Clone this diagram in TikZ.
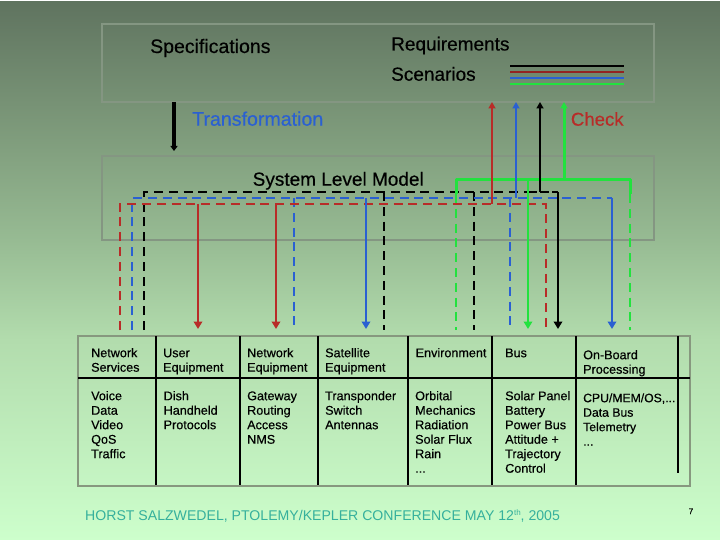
\documentclass[tikz,border=0pt]{standalone}
\usepackage{fontspec}
\setmainfont{Liberation Sans}
\newfontfamily\fatfont[FakeBold=0.35]{Liberation Sans}
\usetikzlibrary{arrows.meta}
\definecolor{bgA}{HTML}{5F735F}
\definecolor{bgB}{HTML}{82A07F}
\definecolor{bgC}{HTML}{97BB93}
\definecolor{bgD}{HTML}{B2DCAD}
\definecolor{bgE}{HTML}{CDFFCC}
\definecolor{framec}{HTML}{849682}
\definecolor{tframe}{HTML}{87987F}
\definecolor{redc}{HTML}{B82C28}
\definecolor{bluec}{HTML}{2A60D2}
\definecolor{greenc}{HTML}{22E23E}
\definecolor{foot}{HTML}{35B09C}
\pgfdeclareverticalshading{bgshade}{720pt}{color(0pt)=(bgE); color(200pt)=(bgD); color(300pt)=(bgC); color(390pt)=(bgB); color(540pt)=(bgA)}
\def\fl{\rule{0pt}{10pt}}
\tikzset{
 x=1pt,y=-1pt,
 panel/.style={draw=framec,line width=1.9pt,inner sep=0,anchor=north west},
 head/.style={inner sep=0,anchor=base west},
 cell/.style={inner sep=0,anchor=north west,align=left,font=\fatfont\fontsize{12.6}{14.5}\selectfont},
 rule/.style={line width=2pt,black},
 dashline/.style={line width=2.1pt,dash pattern=on 9pt off 5.8pt},
 solidline/.style={line width=2.6pt},
 tip/.style={-{Triangle[length=7.5pt,width=8.5pt]}},
 uptip/.style={-{Triangle[length=6.5pt,width=7pt]}},
}
\begin{document}
\begin{tikzpicture}
\useasboundingbox (0,0) rectangle (720,540);
\node[inner sep=0,anchor=north west] (bgd) at (0,0) {\pgfuseshading{bgshade}};
% panels
\node[panel,minimum width=552pt,minimum height=78pt] (spec) at (101,23) {};
\node[panel,minimum width=552pt,minimum height=84pt] (sys) at (101,155) {};
% legend
\coordinate (la) at (510,66); \coordinate (lb) at (624,66);
\coordinate (lc) at (510,72); \coordinate (ld) at (624,72);
\coordinate (le) at (510,78); \coordinate (lf) at (624,78);
\coordinate (lg) at (510,84); \coordinate (lh) at (624,84);
\draw[line width=2pt,black] (la)--(lb);
\draw[line width=2.4pt,color=redc!80!black] (lc)--(ld);
\draw[line width=2.4pt,bluec] (le)--(lf);
\draw[line width=2.4pt,greenc] (lg)--(lh);
% transformation arrow
\coordinate (ts) at (174,102); \coordinate (te) at (174,151);
\draw[line width=3.4pt,black,-{Triangle[length=5pt,width=7pt]}] (ts)--(te);
% junction coordinates
\coordinate (bk1) at (144,192); \coordinate (bk4) at (558,192);
\coordinate (bl1) at (132,198); \coordinate (bl5) at (612,198);
\coordinate (rd1) at (120,204); \coordinate (rd5) at (546,204);
\coordinate (gr1) at (456,180); \coordinate (gr4) at (630,180);
% dashed verticals
\coordinate (e120) at (120,330); \coordinate (e132) at (132,330); \coordinate (e144) at (144,330);
\coordinate (j294) at (294,198); \coordinate (e294) at (294,330);
\coordinate (j384) at (384,192); \coordinate (e384) at (384,330);
\coordinate (j474) at (474,192); \coordinate (e474) at (474,330);
\coordinate (j510) at (510,198); \coordinate (e510) at (510,330);
\coordinate (e456) at (456,330); \coordinate (e630) at (630,330); \coordinate (e546) at (546,330);
% black lines
\coordinate (bkm) at (528,192);
\draw[dashline,black] (e144)--(bk1)--(bkm);
\draw[line width=2pt,black,dash pattern=on 9pt off 3pt] (bkm)--(bk4);
\draw[dashline,black] (j384)--(e384);
\draw[dashline,black] (j474)--(e474);
% blue dashed
\draw[dashline,bluec] (e132)--(bl1)--(bl5);
\draw[dashline,bluec] (j294)--(e294);
\draw[dashline,bluec] (j510)--(e510);
% red dashed
\draw[dashline,redc] (e120)--(rd1)--(rd5)--(e546);
% green
\coordinate (gl) at (456,194); \coordinate (gq) at (630,194);
\draw[line width=3pt,greenc,line join=round] (gl)--(gr1)--(gr4)--(gq);
\draw[dashline,greenc] (gl)--(e456);
\draw[dashline,greenc] (gq)--(e630);
% solid down arrows
\coordinate (r1a) at (198,204); \coordinate (r1b) at (198,329);
\coordinate (r2a) at (276,204); \coordinate (r2b) at (276,329);
\coordinate (b1a) at (366,198); \coordinate (b1b) at (366,329);
\coordinate (g1a) at (528,180); \coordinate (g1b) at (528,329);
\coordinate (k1b) at (558,329);
\coordinate (b2b) at (612,329);
\draw[solidline,redc,tip] (r1a)--(r1b);
\draw[solidline,redc,tip] (r2a)--(r2b);
\draw[solidline,bluec,tip] (b1a)--(b1b);
\draw[solidline,greenc,tip] (g1a)--(g1b);
\draw[solidline,black,tip] (bk4)--(k1b);
\draw[solidline,bluec,tip] (bl5)--(b2b);
% up arrows
\coordinate (u1a) at (492,204); \coordinate (u1b) at (492,102);
\coordinate (u2a) at (516,198); \coordinate (u2b) at (516,102);
\coordinate (u3a) at (540,192); \coordinate (u3b) at (540,102);
\coordinate (u4a) at (564,180); \coordinate (u4b) at (564,102);
\draw[solidline,redc,uptip] (u1a)--(u1b);
\draw[solidline,bluec,uptip] (u2a)--(u2b);
\draw[line width=2.2pt,black,uptip] (u3a)--(u3b);
\draw[line width=3pt,greenc,uptip] (u4a)--(u4b);
% heading texts
\node[head,font=\fatfont\fontsize{19.5}{20}\selectfont] (tspec) at (150,53) {Specifications};
\node[head,font=\fatfont\fontsize{19}{20}\selectfont] (treq) at (391,50.5) {Requirements};
\node[head,font=\fatfont\fontsize{19}{20}\selectfont] (tscen) at (391,80.7) {Scenarios};
\node[head,font=\fatfont\fontsize{19.6}{20}\selectfont,text=bluec] (ttrans) at (192,125.7) {Transformation};
\node[head,font=\fatfont\fontsize{18.6}{20}\selectfont,text=redc] (tcheck) at (570.7,125.7) {Check};
\node[head,font=\fatfont\fontsize{19}{20}\selectfont] (tsys) at (252.5,185.7) {System Level Model};
% table
\node[draw=tframe,line width=2pt,inner sep=0,anchor=north west,minimum width=612pt,minimum height=150pt] (tbl) at (77,335) {};
\coordinate (h1) at (78,378); \coordinate (h2) at (690,378);
\draw[rule,line width=2.2pt] (h1)--(h2);
\foreach \nm/\vx in {v1/156,v2/240,v3/318,v4/408,v5/492,v6/576}{
  \coordinate (\nm a) at (\vx,336); \coordinate (\nm b) at (\vx,485);
  \draw[rule] (\nm a)--(\nm b);
}
\coordinate (v7a) at (678,336); \coordinate (v7b) at (678,473);
\draw[rule] (v7a)--(v7b);
% first row
\node[cell] (c11) at (91,347) {\fl Network\\Services};
\node[cell] (c12) at (163,347) {\fl User\\Equipment};
\node[cell] (c13) at (247,347) {\fl Network\\Equipment};
\node[cell] (c14) at (325,347) {\fl Satellite\\Equipment};
\node[cell] (c15) at (415.5,347) {\fl Environment};
\node[cell] (c16) at (505,347) {\fl Bus};
\node[cell] (c17) at (583,349) {\fl On-Board\\Processing};
% second row
\node[cell] (c21) at (91,390) {\fl Voice\\Data\\Video\\QoS\\Traffic};
\node[cell] (c22) at (163.5,390) {\fl Dish\\Handheld\\Protocols};
\node[cell] (c23) at (247,390) {\fl Gateway\\Routing\\Access\\NMS};
\node[cell] (c24) at (325,390) {\fl Transponder\\Switch\\Antennas};
\node[cell] (c25) at (415,390) {\fl Orbital\\Mechanics\\Radiation\\Solar Flux\\Rain\\...};
\node[cell] (c26) at (505,390) {\fl Solar Panel\\Battery\\Power Bus\\Attitude +\\Trajectory\\Control};
\node[cell,font=\fatfont\fontsize{12.2}{14.5}\selectfont] (c27) at (583,392) {\fl CPU/MEM/OS,...\\Data Bus\\Telemetry\\...};
% footer
\node[inner sep=0,anchor=base west,text=foot,font=\fontsize{14.1}{16}\selectfont] (footer) at (85,520) {HORST SALZWEDEL, PTOLEMY/KEPLER CONFERENCE MAY 12\raisebox{5pt}{\fontsize{8}{8}\selectfont th}, 2005};
\node[inner sep=0,anchor=base west,font=\fatfont\fontsize{8}{9}\selectfont] (pg) at (688.5,514) {7};
\end{tikzpicture}
\end{document}
